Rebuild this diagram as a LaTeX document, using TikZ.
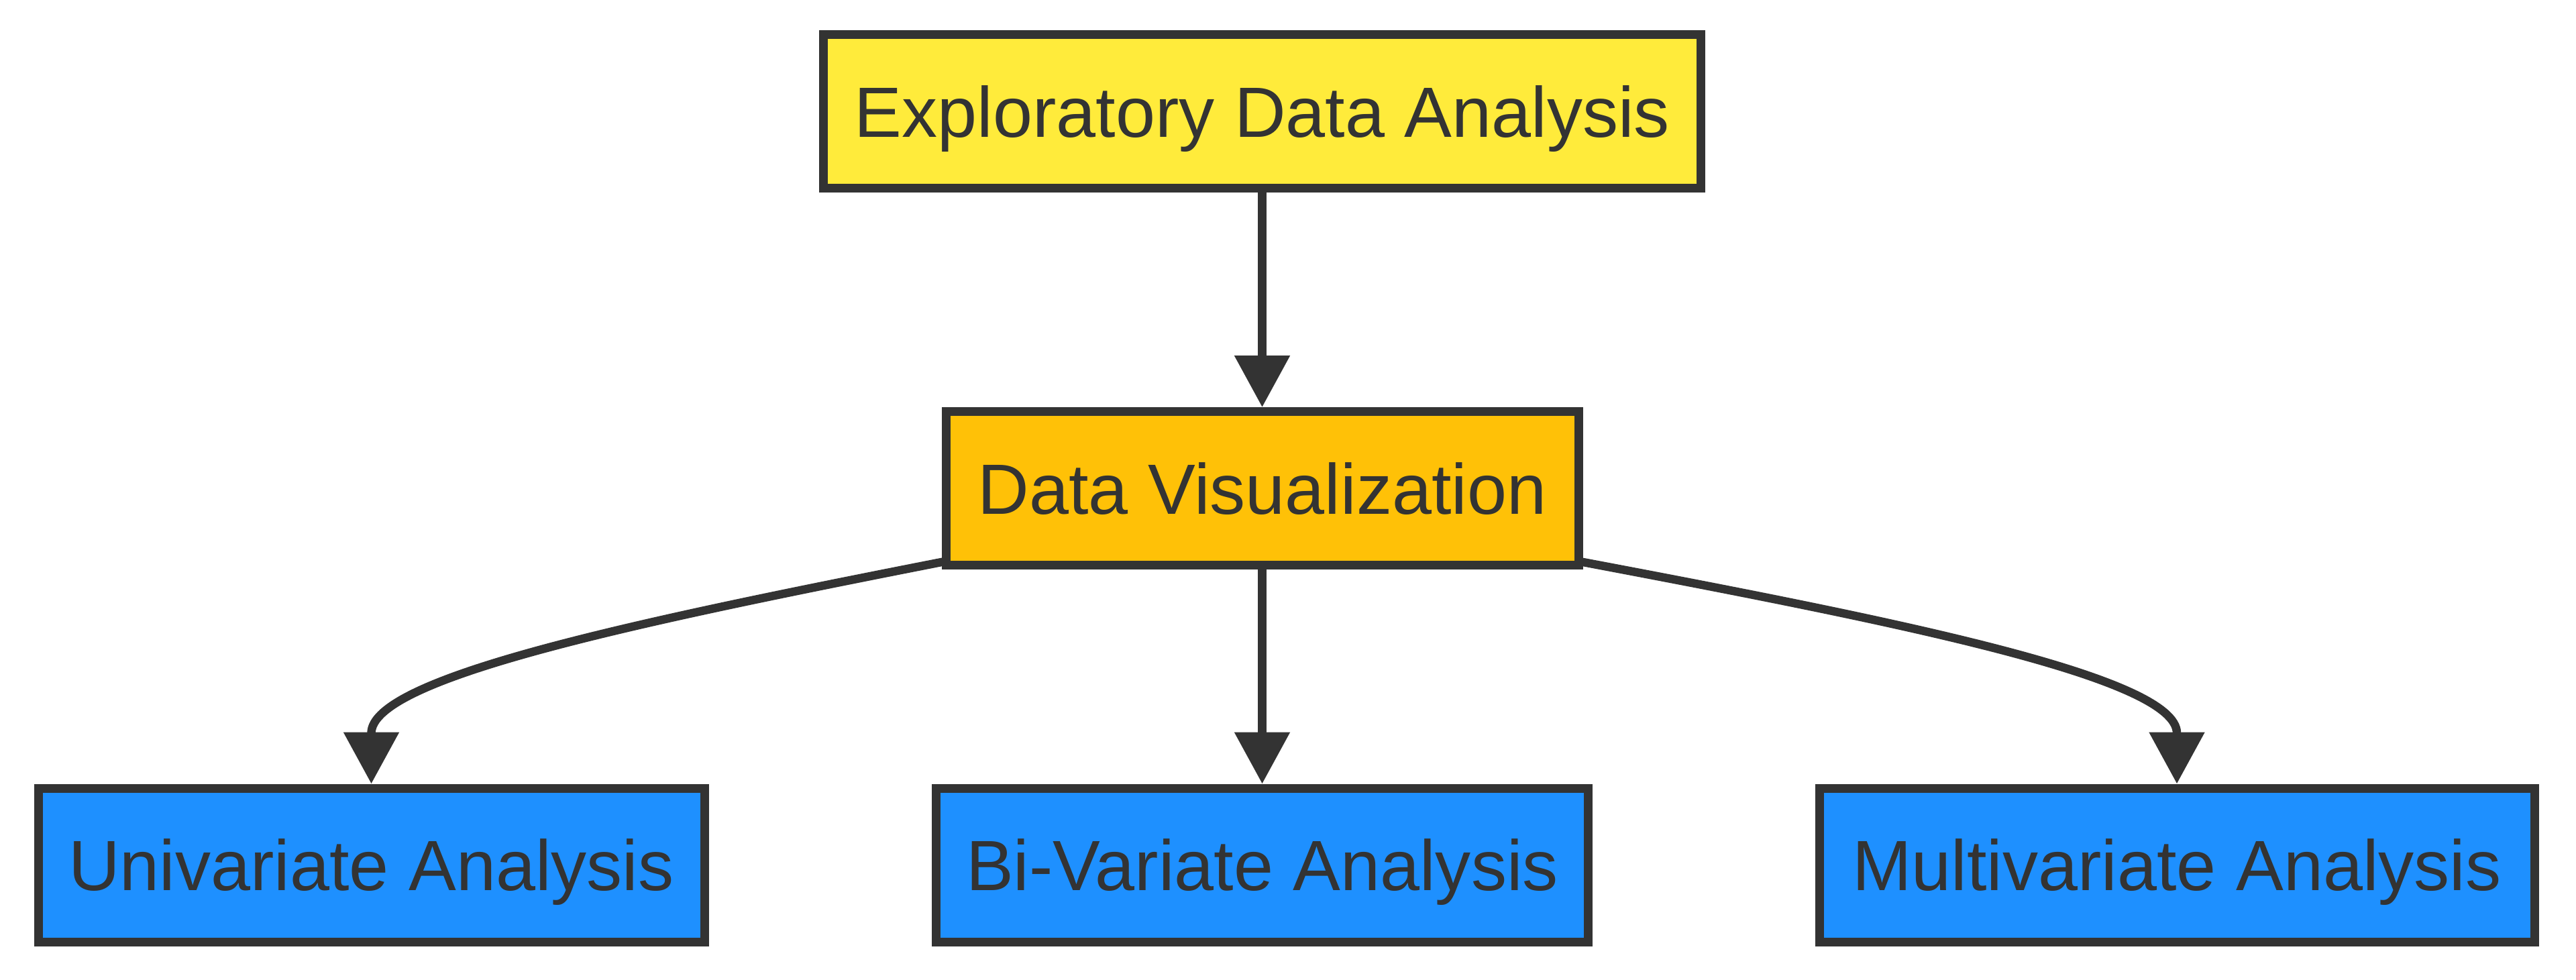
\documentclass[tikz,border=0pt]{standalone}
\usepackage{fontspec}
\setmainfont{Liberation Sans}
\usetikzlibrary{arrows.meta,calc}
\definecolor{strk}{HTML}{333333}
\definecolor{yel}{HTML}{FFEB3B}
\definecolor{amb}{HTML}{FFC107}
\definecolor{blu}{HTML}{1E90FF}
\tikzset{
  box/.style={draw=strk, line width=0.13cm, rectangle, inner sep=0pt,
    minimum height=2.29cm, text height=0.76cm, text depth=0pt,
    text=strk, font=\fontsize{30.2pt}{36pt}\selectfont},
  edge/.style={draw=strk, line width=0.125cm, -{Triangle[length=0.77cm,width=0.8cm]}}
}
\begin{document}
\begin{tikzpicture}
\useasboundingbox (0,0) rectangle (38.4,-14.61);
\node[box, fill=yel, minimum width=13.08cm] (eda) at (18.815,-1.665) {Exploratory Data Analysis};
\node[box, fill=amb, minimum width=9.43cm] (dv) at (18.815,-7.28) {Data Visualization};
\node[box, fill=blu, minimum width=9.93cm] (uni) at (5.535,-12.895) {Univariate Analysis};
\node[box, fill=blu, minimum width=9.72cm] (bi) at (18.815,-12.895) {Bi-Variate Analysis};
\node[box, fill=blu, minimum width=10.66cm] (multi) at (32.45,-12.895) {Multivariate Analysis};

\coordinate (ls) at ($(dv.south west)+(0.05,0.12)$);
\coordinate (rs) at ($(dv.south east)+(-0.05,0.12)$);
\draw[edge] (eda.south) -- (dv.north);
\draw[edge] (dv.south) -- (bi.north);
\draw[edge] (ls) .. controls (9.5,-9.27) and (uni.north |- 0,-10.10) .. (uni.north |- 0,-10.93) -- (uni.north);
\draw[edge] (rs) .. controls (28.31,-9.27) and (multi.north |- 0,-10.10) .. (multi.north |- 0,-10.93) -- (multi.north);
\end{tikzpicture}
\end{document}
